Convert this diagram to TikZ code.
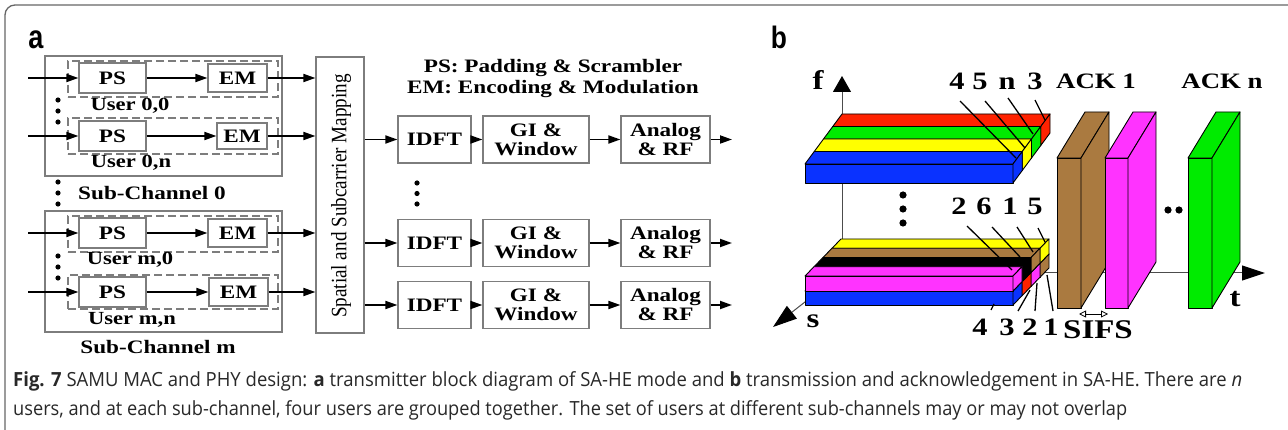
\documentclass[tikz,border=0pt]{standalone}
\usepackage{fontspec}
\usepackage{graphicx}
\usetikzlibrary{arrows.meta}
\newfontfamily\dfont[FakeStretch=1.22]{Liberation Serif}
\newfontfamily\rfont{Liberation Serif}
\newfontfamily\capfont{Open Sans}
\newfontfamily\lblfont{Liberation Sans}
\definecolor{cblue}{RGB}{10,50,255}
\definecolor{cred}{RGB}{255,34,0}
\definecolor{cgreen}{RGB}{0,235,0}
\definecolor{cyellow}{RGB}{255,255,0}
\definecolor{cmag}{RGB}{255,51,255}
\definecolor{cbrown}{RGB}{170,122,64}
\definecolor{boxgray}{RGB}{125,125,125}
\definecolor{capgray}{RGB}{40,40,40}
\newcommand\fsz[1]{\fontsize{#1}{#1}\selectfont}
\newcommand\drawstrip[7]{%
  \filldraw[fill=#7, draw=black, line width=0.9pt, line join=round] (#1,#2) rectangle ++(#3,-#4);
  \filldraw[fill=#7, draw=black, line width=0.9pt, line join=round] (#1,#2-#4) -- ++(#3,0) -- ++(#5,#6) -- ++(-#3,0) -- cycle;
  \filldraw[fill=#7, draw=black, line width=0.9pt, line join=round] (#1+#3,#2) -- ++(0,-#4) -- ++(#5,#6) -- ++(0,#4) -- cycle;
}
\tikzset{
  blk/.style={draw=boxgray, line width=1.2pt, inner sep=0pt, font=\dfont\bfseries\fsz{19}},
  dbox/.style={draw=boxgray, dash pattern=on 8pt off 4pt, line width=1.2pt, inner sep=0pt},
  scbox/.style={draw=boxgray, line width=1.2pt, inner sep=0pt},
  arr/.style={line width=1.8pt, -{Triangle[length=12pt,width=8pt]}},
  lbl/.style={font=\dfont\bfseries\fsz{18.5}, inner sep=0pt},
  num/.style={font=\dfont\bfseries\fsz{25}, inner sep=0pt, anchor=base},
  axis/.style={draw=black!70, line width=1pt},
  lead/.style={line width=1.3pt},
}
\begin{document}
\begin{tikzpicture}[x=1pt,y=-1pt]
\useasboundingbox (0,0) rectangle (1288,430);
% frame
\draw[line width=1.3pt, draw=black!60, rounded corners=10pt] (5,431) -- (5,5) -- (1289,5);
% panel labels
\node[anchor=base, inner sep=0pt, font=\lblfont\bfseries\fsz{33}] (la) at (36,49) {\scalebox{0.82}[1]{a}};
\node[anchor=base, inner sep=0pt, font=\lblfont\bfseries\fsz{31}] (lb) at (779,49) {\scalebox{0.85}[1]{b}};

% ---------------- panel a ----------------
\node[scbox, minimum width=237pt, minimum height=120pt] (sc0) at (163.5,116) {};
\node[scbox, minimum width=237pt, minimum height=121pt] (scm) at (163.5,271.5) {};
\node[dbox, minimum width=210pt, minimum height=36pt] (u1) at (173,79) {};
\node[dbox, minimum width=210pt, minimum height=36pt] (u2) at (173,136) {};
\node[dbox, minimum width=210pt, minimum height=36pt] (u3) at (173,234) {};
\node[dbox, minimum width=210pt, minimum height=34pt] (u4) at (173,292) {};

\node[blk, minimum width=67pt, minimum height=30pt] (ps1) at (112.5,78) {PS};
\node[blk, minimum width=59pt, minimum height=28pt] (em1) at (237.5,78) {EM};
\node[blk, minimum width=67pt, minimum height=30pt] (ps2) at (112.5,136) {PS};
\node[blk, minimum width=50pt, minimum height=26pt] (em2) at (242,136) {EM};
\node[blk, minimum width=67pt, minimum height=30pt] (ps3) at (112.5,233) {PS};
\node[blk, minimum width=59pt, minimum height=28pt] (em3) at (237.5,233) {EM};
\node[blk, minimum width=67pt, minimum height=30pt] (ps4) at (112.5,292) {PS};
\node[blk, minimum width=59pt, minimum height=28pt] (em4) at (238.5,292) {EM};

\node[lbl] (tu1) at (130,106) {User 0,0};
\node[lbl] (tu2) at (131,163) {User 0,n};
\node[lbl] (tu3) at (130,260) {User m,0};
\node[lbl] (tu4) at (132,320) {User m,n};
\node[lbl, font=\dfont\bfseries\fsz{19}] (tsc0) at (152,193) {Sub-Channel 0};
\node[lbl, font=\dfont\bfseries\fsz{19}] (tscm) at (158,347) {Sub-Channel m};

\foreach \yy in {100,111,122,182,193,204,256,267,278}{\fill (58,\yy) circle (2.6pt);}

\node[scbox, minimum width=48pt, minimum height=276pt] (map) at (340,195) {};
\node[rotate=90, inner sep=0pt] (maptxt) at (341,196) {\scalebox{0.87}[1]{\rfont\fsz{22}Spatial and Subcarrier Mapping}};

\coordinate (in1) at (28,78);
\coordinate (in2) at (28,136);
\coordinate (in3) at (28,233);
\coordinate (in4) at (28,292);
\foreach \i in {1,2,3,4}{
  \draw[arr] (in\i) -- (ps\i.west);
  \draw[arr] (ps\i.east) -- (em\i.west);
  \draw[arr] (em\i.east) -- (em\i.east -| map.west);
}

\node[font=\dfont\bfseries\fontsize{19}{21}\selectfont, align=center, inner sep=0pt] (legend) at (553,78.5)
  {PS: Padding \& Scrambler\\EM: Encoding \& Modulation};

\foreach \i/\yy in {1/139.5,2/243,3/305}{
  \node[blk, minimum width=73pt, minimum height=47pt] (idft\i) at (434.5,\yy) {IDFT};
  \node[blk, align=center, minimum width=106pt, minimum height=47pt] (gi\i) at (536,\yy) {GI \&\\Window};
  \node[blk, align=center, minimum width=89pt, minimum height=47pt] (rf\i) at (665.5,\yy) {Analog\\\& RF};
  \coordinate (out\i) at (732,\yy);
  \draw[arr] (map.east |- idft\i.west) -- (idft\i.west);
  \draw[arr] (idft\i.east) -- (gi\i.west);
  \draw[arr] (gi\i.east) -- (rf\i.west);
  \draw[arr] (rf\i.east) -- (out\i);
}
\foreach \yy in {183,193.5,204}{\fill (417,\yy) circle (2.6pt);}

% ---------------- panel b ----------------
\coordinate (O) at (842,273);
\coordinate (ftip) at (842,76);
\coordinate (ttip) at (1265,273);
\coordinate (stip) at (773,327);
\draw[axis, -{Triangle[length=16pt,width=18pt,color=black,fill=black]}] (O) -- (ftip);
\draw[axis, -{Triangle[length=23pt,width=15pt,color=black,fill=black]}] (O) -- (ttip);
\draw[axis, -{Triangle[length=24pt,width=16pt,color=black,fill=black]}] (O) -- (stip);
\node[num, font=\dfont\bfseries\fsz{27}] (lf) at (818,90) {f};
\node[num, font=\dfont\bfseries\fsz{27}] (ls) at (813,328) {s};
\node[num, font=\dfont\bfseries\fsz{27}] (lt) at (1235,307) {t};

% upper block
\drawstrip{832.75}{145.5}{208}{19}{9.25}{-12.5}{cred}
\drawstrip{823.5}{158}{208}{19}{9.25}{-12.5}{cgreen}
\drawstrip{814.25}{170.5}{208}{19}{9.25}{-12.5}{cyellow}
\drawstrip{805}{183}{208}{19}{9.25}{-12.5}{cblue}
% lower block
\drawstrip{832}{277.25}{208}{14}{9}{-9.25}{cbrown}
\drawstrip{832}{263.25}{208}{15}{9}{-9.25}{cyellow}
\drawstrip{823}{286.5}{208}{14}{9}{-9.25}{cmag}
\drawstrip{823}{272.5}{208}{15}{9}{-9.25}{cbrown}
\drawstrip{814}{295.75}{208}{14}{9}{-9.25}{cred}
\drawstrip{814}{281.75}{208}{15}{9}{-9.25}{black}
\drawstrip{805}{305}{208}{14}{9}{-9.25}{cblue}
\drawstrip{805}{291}{208}{15}{9}{-9.25}{cmag}
% ACK slabs
\drawstrip{1057}{308}{24}{150}{28}{-46}{cbrown}
\drawstrip{1105}{308}{23}{150}{28}{-46}{cmag}
\drawstrip{1188}{308}{24}{150}{28}{-46}{cgreen}

\foreach \yy in {195,209,223}{\fill (903,\yy) circle (3.6pt);}
\fill (1168,210) circle (3.6pt);
\fill (1179,210) circle (3.6pt);

% labels upper block
\node[num] (n4) at (957,90) {4};
\node[num] (n5) at (980,90) {5};
\node[num] (nn) at (1007,90) {n};
\node[num] (n3) at (1035,90) {3};
\coordinate (a1) at (960,101);  \coordinate (b1) at (1016,158);
\coordinate (a2) at (985,101);  \coordinate (b2) at (1025,148);
\coordinate (a3) at (1008,98);  \coordinate (b3) at (1033,134);
\coordinate (a4) at (1035,100); \coordinate (b4) at (1045,120);
\foreach \i in {1,2,3,4}{\draw[lead] (a\i) -- (b\i);}
% labels lower block top
\node[num] (m2) at (959,215) {2};
\node[num] (m6) at (984,215) {6};
\node[num] (m1) at (1010,215) {1};
\node[num] (m5) at (1035,215) {5};
\coordinate (c1) at (967,226);  \coordinate (d1) at (1012,270);
\coordinate (c2) at (992,227);  \coordinate (d2) at (1020,257);
\coordinate (c3) at (1017,227); \coordinate (d3) at (1033,252);
\coordinate (c4) at (1038,228); \coordinate (d4) at (1045,242);
\foreach \i in {1,2,3,4}{\draw[lead] (c\i) -- (d\i);}
% labels lower block bottom
\node[num] (k4) at (980,336) {4};
\node[num] (k3) at (1007,336) {3};
\node[num] (k2) at (1030,336) {2};
\node[num] (k1) at (1051,336) {1};
\coordinate (e1) at (991,310);  \coordinate (f1) at (994,304);
\coordinate (e2) at (1018,311); \coordinate (f2) at (1030,290);
\coordinate (e3) at (1035,311); \coordinate (f3) at (1037,283);
\coordinate (e4) at (1053,311); \coordinate (f4) at (1047,275);
\foreach \i in {1,2,3,4}{\draw[lead] (e\i) -- (f\i);}

% ACK labels and SIFS
\node[num, font=\dfont\bfseries\fsz{22}] (ack1) at (1096,89) {ACK 1};
\node[num, font=\dfont\bfseries\fsz{22}] (ackn) at (1222,89) {ACK n};
\node[num, font=\dfont\bfseries\fsz{27}] (sifs) at (1098,339) {SIFS};
\coordinate (sl) at (1079,314);
\coordinate (sr) at (1108,314);
\draw[line width=0.8pt, {Triangle[open,length=7pt,width=7pt]}-{Triangle[open,length=7pt,width=7pt]}] (sl) -- (sr);

% caption
\node[anchor=base west, inner sep=0pt, text=capgray] (cap1) at (13,386)
  {\resizebox{1229pt}{\height}{\capfont\fsz{19.5}\textbf{Fig. 7} SAMU MAC and PHY design: \textbf{a} transmitter block diagram of SA-HE mode and \textbf{b} transmission and acknowledgement in SA-HE. There are \textit{n}}};
\node[anchor=base west, inner sep=0pt, text=capgray] (cap2) at (13,415)
  {\resizebox{1114pt}{\height}{\capfont\fsz{19.5}users, and at each sub-channel, four users are grouped together. The set of users at different sub-channels may or may not overlap}};
\end{tikzpicture}
\end{document}
